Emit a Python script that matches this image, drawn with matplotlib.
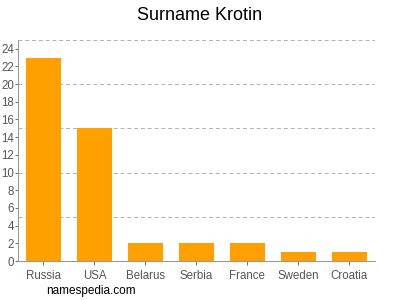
import matplotlib
matplotlib.use('Agg')
import matplotlib.pyplot as plt

plt.rcParams['font.family'] = ['Liberation Sans', 'DejaVu Sans']

countries = ['Russia', 'USA', 'Belarus', 'Serbia', 'France', 'Sweden', 'Croatia']
counts = [23, 15, 2, 2, 2, 1, 1]
yticks = list(range(0, 25, 2))
grid_levels = [5, 10, 15, 20, 25]

fig = plt.figure(figsize=(4, 3), dpi=100)
ax = fig.add_axes([0.045, 0.13, 0.892, 0.737])
x = list(range(len(countries)))
ax.bar(x, counts, width=0.69, color='#ffa000', zorder=2)
for g in grid_levels:
    ax.axhline(g, color='#b0b0b0', linestyle=(0, (4, 3)), linewidth=0.7, zorder=1)

ax.set_xlim(-0.5, len(countries) - 0.5)
ax.set_ylim(0, 25)
ax.set_yticks(yticks)
ax.set_xticks(x)
ax.set_xticklabels(countries)
ax.tick_params(labelsize=8.3, colors='#555555', length=3, width=0.6)
ax.tick_params(axis='y', pad=0.5, length=2.5)
for s in ['top', 'right']:
    ax.spines[s].set_visible(False)
for s in ['left', 'bottom']:
    ax.spines[s].set_color('#999999')
    ax.spines[s].set_linewidth(0.8)

fig.text(0.5, 0.95, 'Surname Krotin', ha='center', va='center', fontsize=13)
fig.text(0.115, 0.03, 'namespedia.com', ha='left', va='center', fontsize=8.5)
fig.savefig('out.png', dpi=100)
